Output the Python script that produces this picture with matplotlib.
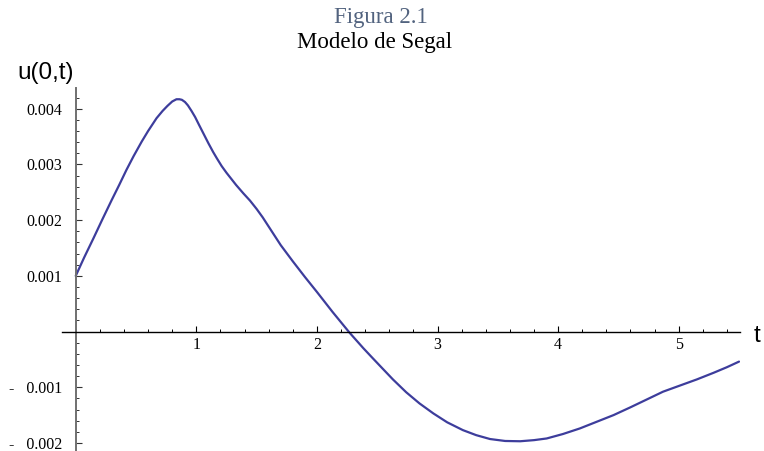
import matplotlib
matplotlib.use("Agg")
from matplotlib import pyplot as plt
from matplotlib.ticker import MultipleLocator, FixedLocator, FuncFormatter

# u(0,t) for the Segal model (u in units of 1e-3)
t_vals = [0.00, 0.07, 0.146, 0.22, 0.298, 0.36, 0.42, 0.48, 0.547, 0.60, 0.67,
          0.72, 0.76, 0.80, 0.835, 0.86, 0.88, 0.906, 0.93, 0.96, 0.99, 1.02,
          1.06, 1.10, 1.14, 1.17, 1.21, 1.25, 1.29, 1.33, 1.39, 1.445, 1.50,
          1.55, 1.61, 1.70, 1.80, 1.90, 2.00, 2.13, 2.27, 2.385, 2.45, 2.52,
          2.63, 2.74, 2.85, 2.965, 3.08, 3.21, 3.32, 3.435, 3.56, 3.685, 3.80,
          3.905, 4.04, 4.18, 4.32, 4.46, 4.60, 4.735, 4.87, 5.01, 5.15, 5.29,
          5.40, 5.50]
u_vals = [1.00, 1.33, 1.67, 2.01, 2.36, 2.63, 2.90, 3.15, 3.41, 3.60, 3.83,
          3.96, 4.05, 4.13, 4.17, 4.17, 4.16, 4.12, 4.06, 3.96, 3.85, 3.72,
          3.55, 3.38, 3.22, 3.11, 2.97, 2.85, 2.74, 2.63, 2.48, 2.35, 2.20,
          2.05, 1.85, 1.55, 1.26, 0.98, 0.71, 0.35, -0.02, -0.30, -0.45, -0.61,
          -0.86, -1.09, -1.29, -1.47, -1.63, -1.77, -1.86, -1.93, -1.965, -1.97, -1.95,
          -1.92, -1.84, -1.74, -1.62, -1.50, -1.36, -1.22, -1.08, -0.97, -0.86, -0.74,
          -0.64, -0.54]

x_major = [1, 2, 3, 4, 5]
y_major = [-2, -1, 1, 2, 3, 4]
y_labels = {-2: '-   0.002', -1: '-   0.001', 1: '0.001', 2: '0.002', 3: '0.003', 4: '0.004'}

W, H = 764, 451
fig = plt.figure(figsize=(W / 100, H / 100), dpi=100)
# axes box in pixels: left 62, right 740, top 88, bottom 451
ax = fig.add_axes([62 / W, 0, 678 / W, 363 / H])
ax.set_xlim(-0.114, 5.508)
ax.set_ylim(-2.145, 4.372)

ax.plot(t_vals, u_vals, color='#3d3d9c', lw=1.6, solid_capstyle='round',
        solid_joinstyle='round')

for s in ['top', 'right']:
    ax.spines[s].set_visible(False)
ax.spines['left'].set_position(('data', 0))
ax.spines['bottom'].set_position(('data', 0))
ax.spines['left'].set_color('#707070')
ax.spines['left'].set_linewidth(1.4)
ax.spines['bottom'].set_color('black')
ax.spines['bottom'].set_linewidth(1.0)
ax.patch.set_visible(False)

ax.xaxis.set_major_locator(FixedLocator(x_major))
ax.xaxis.set_minor_locator(MultipleLocator(0.2))
ax.yaxis.set_major_locator(FixedLocator(y_major))
ax.yaxis.set_minor_locator(MultipleLocator(0.2))
ax.xaxis.set_major_formatter(FuncFormatter(lambda v, p: f'{int(round(v))}'))
ax.yaxis.set_major_formatter(FuncFormatter(lambda v, p: y_labels.get(int(round(v)), '')))

ax.tick_params(axis='x', which='major', direction='in', length=4, width=0.8, color='black',
               pad=4, labelsize=11.5)
ax.tick_params(axis='x', which='minor', direction='in', length=2.5, width=0.7, color='black')
ax.tick_params(axis='y', which='major', direction='in', length=4, width=0.8, color='#333333',
               pad=10, labelsize=11.5)
ax.tick_params(axis='y', which='minor', direction='in', length=2.5, width=0.7, color='#333333')
for lab in ax.get_xticklabels() + ax.get_yticklabels():
    lab.set_family('Liberation Serif')

fig.text(381 / W, 1 - 23 / H, 'Figura 2.1', ha='center', va='baseline',
         family='Liberation Serif', fontsize=16.5, color='#52637f')
fig.text(375 / W, 1 - 48 / H, 'Modelo de Segal', ha='center', va='baseline',
         family='Liberation Serif', fontsize=16.5, color='black')
fig.text(17 / W, 1 - 73 / H, 'u(0,t)', ha='left', va='center',
         family='Liberation Sans', fontsize=17.5, color='black')
fig.text(754 / W, 1 - 336 / H, 't', ha='left', va='center',
         family='Liberation Sans', fontsize=17.5, color='black')

fig.savefig('out.png', dpi=100)
